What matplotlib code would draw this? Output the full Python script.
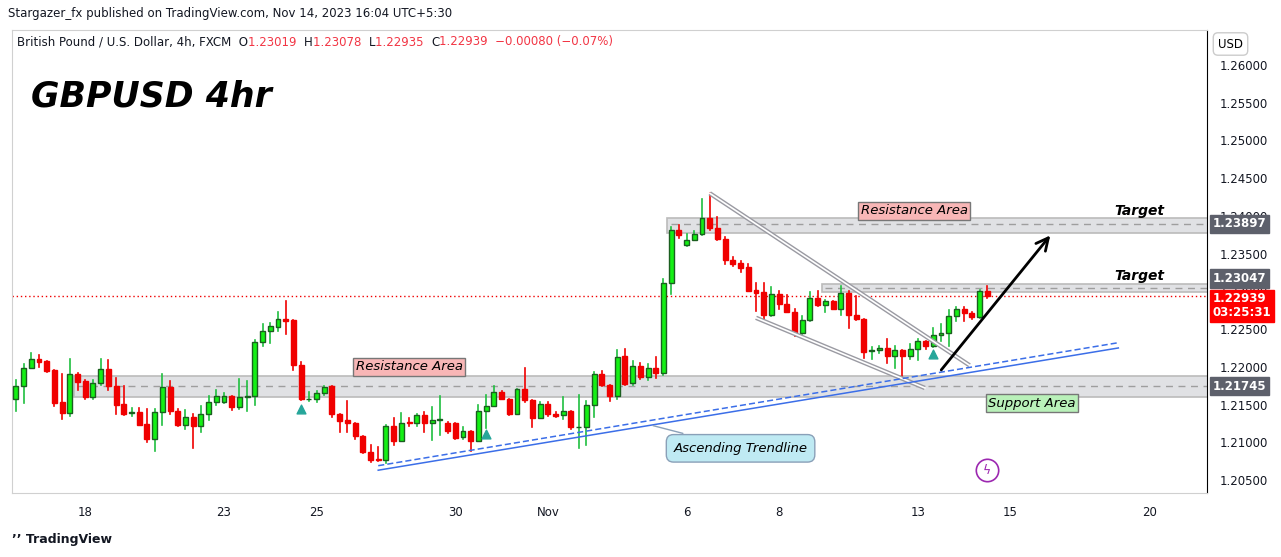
import matplotlib.pyplot as plt
from matplotlib.patches import Rectangle
import numpy as np

# 4h GBPUSD candles (first candle is Oct 16 late session)
opens = [1.2158, 1.2174, 1.2198, 1.2210, 1.2208, 1.2196, 1.2153, 1.2139, 1.2191, 1.2181,
         1.2160, 1.2179, 1.2197, 1.2174, 1.2151, 1.2139, 1.2140, 1.2124, 1.2105, 1.2140,
         1.2173, 1.2142, 1.2123, 1.2134, 1.2121, 1.2138, 1.2153, 1.2153, 1.2161, 1.2147,
         1.2160, 1.2162, 1.2233, 1.2247, 1.2253, 1.2263, 1.2262, 1.2203, 1.2157, 1.2157,
         1.2165, 1.2174, 1.2137, 1.2129, 1.2125, 1.2109, 1.2087, 1.2078, 1.2077, 1.2122,
         1.2102, 1.2127, 1.2125, 1.2136, 1.2126, 1.2129, 1.2126, 1.2125, 1.2107, 1.2115,
         1.2102, 1.2141, 1.2148, 1.2167, 1.2158, 1.2138, 1.2170, 1.2156, 1.2132, 1.2151,
         1.2137, 1.2136, 1.2142, 1.2120, 1.2120, 1.2149, 1.2191, 1.2176, 1.2162, 1.2214,
         1.2178, 1.2201, 1.2187, 1.2198, 1.2192, 1.2311, 1.2381, 1.2361, 1.2368, 1.2376,
         1.2397, 1.2384, 1.2369, 1.2341, 1.2337, 1.2332, 1.2302, 1.2299, 1.2269, 1.2297,
         1.2283, 1.2273, 1.2245, 1.2262, 1.2291, 1.2282, 1.2287, 1.2276, 1.2298, 1.2269,
         1.2264, 1.2221, 1.2222, 1.2225, 1.2215, 1.2222, 1.2215, 1.2224, 1.2234, 1.2228,
         1.2242, 1.2245, 1.2267, 1.2277, 1.2271, 1.2266, 1.2300]
highs = [1.2183, 1.2204, 1.2218, 1.2216, 1.2208, 1.2196, 1.2190, 1.2210, 1.2192, 1.2183,
         1.2183, 1.2210, 1.2209, 1.2185, 1.2175, 1.2145, 1.2145, 1.2144, 1.2144, 1.2190,
         1.2181, 1.2144, 1.2143, 1.2138, 1.2148, 1.2161, 1.2169, 1.2165, 1.2161, 1.2184,
         1.2181, 1.2236, 1.2257, 1.2258, 1.2273, 1.2287, 1.2262, 1.2207, 1.2167, 1.2168,
         1.2175, 1.2175, 1.2137, 1.2155, 1.2125, 1.2109, 1.2097, 1.2094, 1.2123, 1.2132,
         1.2139, 1.2132, 1.2138, 1.2140, 1.2147, 1.2161, 1.2127, 1.2125, 1.2120, 1.2115,
         1.2150, 1.2163, 1.2174, 1.2168, 1.2158, 1.2171, 1.2199, 1.2156, 1.2154, 1.2153,
         1.2140, 1.2160, 1.2142, 1.2163, 1.2155, 1.2193, 1.2194, 1.2176, 1.2222, 1.2224,
         1.2208, 1.2205, 1.2204, 1.2213, 1.2316, 1.2385, 1.2388, 1.2376, 1.2380, 1.2422,
         1.2430, 1.2399, 1.2372, 1.2346, 1.2340, 1.2336, 1.2311, 1.2311, 1.2306, 1.2300,
         1.2295, 1.2277, 1.2267, 1.2299, 1.2300, 1.2289, 1.2287, 1.2307, 1.2301, 1.2294,
         1.2264, 1.2226, 1.2227, 1.2237, 1.2228, 1.2222, 1.2230, 1.2237, 1.2234, 1.2252,
         1.2257, 1.2275, 1.2279, 1.2279, 1.2273, 1.2302, 1.2307]
lows = [1.2142, 1.2152, 1.2198, 1.2200, 1.2193, 1.2148, 1.2131, 1.2135, 1.2169, 1.2158,
        1.2158, 1.2176, 1.2169, 1.2137, 1.2136, 1.2135, 1.2123, 1.2100, 1.2089, 1.2123,
        1.2137, 1.2121, 1.2117, 1.2092, 1.2113, 1.2130, 1.2149, 1.2152, 1.2143, 1.2144,
        1.2142, 1.2149, 1.2227, 1.2232, 1.2248, 1.2243, 1.2196, 1.2156, 1.2155, 1.2153,
        1.2163, 1.2133, 1.2113, 1.2113, 1.2105, 1.2086, 1.2074, 1.2075, 1.2073, 1.2097,
        1.2102, 1.2121, 1.2122, 1.2114, 1.2103, 1.2110, 1.2112, 1.2105, 1.2105, 1.2089,
        1.2102, 1.2119, 1.2148, 1.2157, 1.2136, 1.2137, 1.2154, 1.2120, 1.2132, 1.2135,
        1.2134, 1.2131, 1.2118, 1.2093, 1.2097, 1.2133, 1.2175, 1.2155, 1.2157, 1.2176,
        1.2176, 1.2184, 1.2182, 1.2185, 1.2189, 1.2297, 1.2371, 1.2360, 1.2368, 1.2375,
        1.2382, 1.2368, 1.2336, 1.2333, 1.2326, 1.2300, 1.2274, 1.2261, 1.2268, 1.2277,
        1.2273, 1.2241, 1.2243, 1.2261, 1.2281, 1.2273, 1.2276, 1.2269, 1.2252, 1.2262,
        1.2212, 1.2211, 1.2219, 1.2205, 1.2198, 1.2186, 1.2211, 1.2209, 1.2223, 1.2226,
        1.2234, 1.2228, 1.2261, 1.2261, 1.2263, 1.2265, 1.2291]
closes = [1.2174, 1.2198, 1.2210, 1.2207, 1.2195, 1.2152, 1.2139, 1.2190, 1.2180, 1.2160,
          1.2179, 1.2197, 1.2174, 1.2150, 1.2138, 1.2140, 1.2123, 1.2105, 1.2140, 1.2173,
          1.2141, 1.2123, 1.2134, 1.2121, 1.2138, 1.2153, 1.2161, 1.2161, 1.2147, 1.2160,
          1.2162, 1.2233, 1.2247, 1.2254, 1.2263, 1.2261, 1.2202, 1.2157, 1.2157, 1.2165,
          1.2173, 1.2137, 1.2128, 1.2125, 1.2109, 1.2087, 1.2077, 1.2077, 1.2122, 1.2102,
          1.2126, 1.2125, 1.2136, 1.2126, 1.2129, 1.2131, 1.2115, 1.2106, 1.2115, 1.2102,
          1.2141, 1.2148, 1.2167, 1.2158, 1.2137, 1.2170, 1.2156, 1.2132, 1.2151, 1.2137,
          1.2135, 1.2142, 1.2120, 1.2120, 1.2149, 1.2191, 1.2176, 1.2162, 1.2213, 1.2177,
          1.2201, 1.2187, 1.2198, 1.2192, 1.2311, 1.2381, 1.2375, 1.2368, 1.2376, 1.2397,
          1.2384, 1.2369, 1.2341, 1.2336, 1.2331, 1.2301, 1.2298, 1.2269, 1.2297, 1.2283,
          1.2273, 1.2245, 1.2262, 1.2291, 1.2282, 1.2287, 1.2276, 1.2298, 1.2269, 1.2263,
          1.2220, 1.2222, 1.2225, 1.2215, 1.2222, 1.2215, 1.2224, 1.2234, 1.2228, 1.2242,
          1.2245, 1.2267, 1.2277, 1.2271, 1.2266, 1.2300, 1.22939]

date_labels = ['18', '23', '25', '30', 'Nov', '6', '8', '13', '15', '20']
date_bars = [9, 27, 39, 57, 69, 87, 99, 117, 129, 147]
price_ticks = [1.205, 1.210, 1.215, 1.220, 1.225, 1.230, 1.235, 1.240, 1.245, 1.250, 1.255, 1.260]

support_zone = (1.2160, 1.2188, 1.21745)
resist_zone = (1.2377, 1.2397, 1.23897)
target_zone = (1.2299, 1.2310, 1.23047)
last_price = 1.22939
signal_bars = [37, 61, 119]
signal_prices = [1.2144, 1.2111, 1.2217]

UP = '#14f014'
UP_EDGE = '#1b5e20'
UP_WICK = '#1fbf3f'
DN = '#f00000'
GREY_BOX = '#5d606b'

fig = plt.figure(figsize=(12.81, 5.57), dpi=100)
ax = fig.add_axes([12 / 1281, 1 - 493 / 557, 1195 / 1281, 463 / 557])
ax.set_xlim(-0.5, 154.5)
ax.set_ylim(1.20328, 1.26464)

for i, (o, h, l, c) in enumerate(zip(opens, highs, lows, closes)):
    up = c >= o
    ax.plot([i, i], [l, h], color=UP_WICK if up else DN, lw=1.2, zorder=3)
    bot, top = min(o, c), max(o, c)
    ax.add_patch(Rectangle((i - 0.32, bot), 0.64, max(top - bot, 0.00008),
                           facecolor=UP if up else DN,
                           edgecolor=UP_EDGE if up else DN, lw=1.0, zorder=4))

# zones
for start, (lo, hi, mid) in [(8, support_zone), (85, resist_zone), (105, target_zone)]:
    ax.add_patch(Rectangle((start - 0.5, lo), 160 - start, hi - lo, facecolor='#e0e1e4',
                           edgecolor='#bbbbbb', lw=1.2, zorder=1))
    ax.plot([start, 154.5], [mid, mid], color='#9e9e9e', lw=1, ls=(0, (5, 4)), zorder=2)

ax.axhline(last_price, color='#f00000', lw=1, ls=(0, (1, 2)), zorder=2)

# falling wedge
for (x0, y0, x1, y1) in [(90, 1.2430, 123.7, 1.2202), (96, 1.2265, 117.9, 1.2172)]:
    ax.plot([x0, x1], [y0, y1], color='#9a9aa2', lw=3.2, zorder=5, solid_capstyle='butt')
    ax.plot([x0, x1], [y0, y1], color='white', lw=1.2, zorder=5)

# ascending trendline
ax.plot([47, 143], [1.2063, 1.2225], color='#3b6ee8', lw=1.1, zorder=5)
ax.plot([47, 143], [1.2069, 1.2232], color='#3b6ee8', lw=1.1, ls=(0, (4, 2)), zorder=5)

ax.annotate('', xy=(134.4, 1.2377), xytext=(119.8, 1.2193),
            arrowprops=dict(arrowstyle='->', color='black', lw=2, mutation_scale=22), zorder=6)

ax.scatter(signal_bars, signal_prices, marker='^', s=40, color='#26a69a', zorder=6)

ax.text(2, 1.2558, 'GBPUSD 4hr', fontsize=25, fontweight='bold', fontstyle='italic',
        va='center', zorder=7)

box_font = dict(fontsize=9.5, fontstyle='italic', va='center', ha='center', zorder=8)
ax.text(116.5, 1.2407, 'Resistance Area',
        bbox=dict(boxstyle='square,pad=0.2', fc='#f8b6b6', ec='#777777'), **box_font)
ax.text(51, 1.2200, 'Resistance Area',
        bbox=dict(boxstyle='square,pad=0.2', fc='#f8b6b6', ec='#777777'), **box_font)
ax.text(131.8, 1.2152, 'Support Area',
        bbox=dict(boxstyle='square,pad=0.2', fc='#b9f1b9', ec='#777777'), **box_font)
ax.annotate('Ascending Trendline', xy=(82.3, 1.2123), xytext=(94, 1.2092),
            bbox=dict(boxstyle='round,pad=0.55', fc='#bfeaf3', ec='#8aa0b8'),
            arrowprops=dict(arrowstyle='-', color='#8aa0b8', lw=1), **box_font)
ax.text(149, 1.2407, 'Target', fontsize=10, fontstyle='italic', fontweight='bold',
        ha='right', va='center', zorder=8)
ax.text(149, 1.2320, 'Target', fontsize=10, fontstyle='italic', fontweight='bold',
        ha='right', va='center', zorder=8)

ax.scatter([126], [1.2063], s=260, marker='o', facecolor='white', edgecolor='#9c27b0',
           lw=1.2, zorder=7)
ax.text(126, 1.2063, '\u03df', color='#9c27b0', fontsize=9, ha='center', va='center', zorder=8)

# axes
ax.set_xticks(date_bars)
ax.set_xticklabels(date_labels)
ax.yaxis.tick_right()
ax.set_yticks(price_ticks)
ax.set_yticklabels([f'{p:.5f}' for p in price_ticks])
ax.tick_params(axis='both', length=0, labelsize=8.5, colors='#131722', pad=9)
for s in ['top', 'left', 'bottom']:
    ax.spines[s].set_color('#d0d0d0')
ax.spines['right'].set_color('black')

# price labels; the two near the last price are nudged apart like TradingView does
label_pos = [(resist_zone[2], resist_zone[2]), (target_zone[2], 1.2317), (support_zone[2], support_zone[2])]
for price, ypos in label_pos:
    ax.text(1.005, ypos, f'{price:.5f}', transform=ax.get_yaxis_transform(), color='white',
            fontsize=8.5, fontweight='bold', va='center', ha='left',
            bbox=dict(boxstyle='square,pad=0.22', fc=GREY_BOX, ec=GREY_BOX), zorder=9, clip_on=False)
ax.text(1.005, 1.2281, f'{last_price:.5f}\n03:25:31', transform=ax.get_yaxis_transform(),
        color='white', fontsize=8.5, fontweight='bold', va='center', ha='left', linespacing=1.05,
        bbox=dict(boxstyle='square,pad=0.22', fc='#ff0000', ec='#ff0000'), zorder=10, clip_on=False)

fig.text(1218 / 1281, 1 - 44 / 557, 'USD', fontsize=8.5, va='center',
         bbox=dict(boxstyle='round,pad=0.4', fc='white', ec='#cccccc'))
fig.text(8 / 1281, 1 - 14 / 557, 'Stargazer_fx published on TradingView.com, Nov 14, 2023 16:04 UTC+5:30',
         fontsize=8.5, color='#131722', va='center')

hdr_y = 1 - 42 / 557
parts = [('British Pound / U.S. Dollar, 4h, FXCM  O', '#131722'), ('1.23019  ', '#f23645'),
         ('H', '#131722'), ('1.23078  ', '#f23645'), ('L', '#131722'), ('1.22935  ', '#f23645'),
         ('C', '#131722'), ('1.22939  \u22120.00080 (\u22120.07%)', '#f23645')]
renderer = fig.canvas.get_renderer()
xpos = 17 / 1281
for txt, col in parts:
    t = fig.text(xpos, hdr_y, txt, fontsize=8.5, color=col, va='center')
    bb = t.get_window_extent(renderer=renderer)
    xpos += bb.width / fig.bbox.width

fig.text(12 / 1281, 1 - 539 / 557, '\u2019\u2019 TradingView', fontsize=9, fontweight='bold',
         color='#131722', va='center')

fig.savefig('out.png', dpi=100)
